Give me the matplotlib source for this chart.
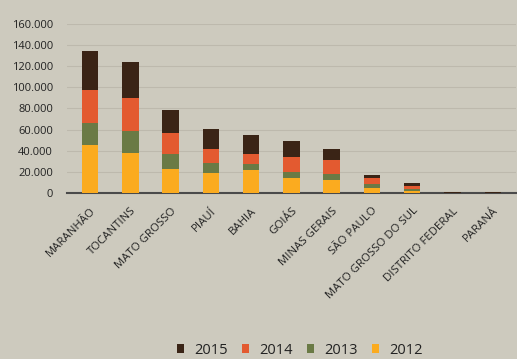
import matplotlib
matplotlib.use("Agg")
import matplotlib.pyplot as plt
from matplotlib.ticker import FuncFormatter
import numpy as np

estados = ["MARANHÃO", "TOCANTINS", "MATO GROSSO", "PIAUÍ", "BAHIA", "GOIÁS",
           "MINAS GERAIS", "SÃO PAULO", "MATO GROSSO DO SUL", "DISTRITO FEDERAL", "PARANÁ"]
v2012 = [45500, 38200, 22700, 19200, 21800, 14500, 12300, 4400, 1900, 200, 200]
v2013 = [20500, 20800, 14200, 9200, 6000, 5700, 5700, 4100, 2100, 100, 100]
v2014 = [31200, 31300, 20200, 13600, 9100, 14200, 13000, 5700, 2300, 100, 100]
v2015 = [37600, 34100, 21200, 18600, 17700, 14600, 11000, 2600, 3200, 200, 200]

anos = ["2015", "2014", "2013", "2012"]
cores = {"2012": "#fbab1f", "2013": "#6a7a45", "2014": "#e35a30", "2015": "#3a2416"}
bg = "#cdcabe"

plt.rcParams['font.family'] = ['Open Sans', 'DejaVu Sans']

fig = plt.figure(figsize=(5.17, 3.59), dpi=100)
fig.patch.set_facecolor(bg)
ax = fig.add_axes([0.1296, 0.4624, 0.868, 0.4708])
ax.set_facecolor(bg)

x = np.arange(len(estados))
w = 0.41
base = np.zeros(len(estados))
series = {"2012": v2012, "2013": v2013, "2014": v2014, "2015": v2015}
handles = {}
for ano in ["2012", "2013", "2014", "2015"]:
    vals = np.array(series[ano])
    handles[ano] = ax.bar(x, vals, w, bottom=base, color=cores[ano], label=ano, zorder=3)
    base = base + vals

ax.set_ylim(0, 160000)
ax.set_xlim(-0.57, len(estados) - 0.43)
ax.set_yticks(np.arange(0, 160001, 20000))
ax.yaxis.set_major_formatter(FuncFormatter(lambda v, p: "0" if v == 0 else f"{int(v):,}".replace(",", ".")))
ax.grid(axis="y", color="#bdb9ad", linewidth=0.8, zorder=0)
for s in ["top", "right", "left"]:
    ax.spines[s].set_visible(False)
ax.spines["bottom"].set_color("#4a4a4a")
ax.spines["bottom"].set_linewidth(1.5)
ax.tick_params(axis="y", length=0, labelsize=8, colors="#222222", pad=10)
ax.tick_params(axis="x", length=0, colors="#222222", pad=9)
ax.set_xticks(x)
ax.set_xticklabels(estados, rotation=45, ha="right", rotation_mode="anchor", fontsize=8.2)

fig.legend([handles[a] for a in anos], anos, loc="center", bbox_to_anchor=(0.58, 0.024),
           ncol=4, frameon=False, fontsize=10.5, handlelength=0.45, handleheight=0.6,
           handletextpad=0.7, columnspacing=1.0, labelcolor="#222222")

fig.savefig("out.png", dpi=100, facecolor=bg)
